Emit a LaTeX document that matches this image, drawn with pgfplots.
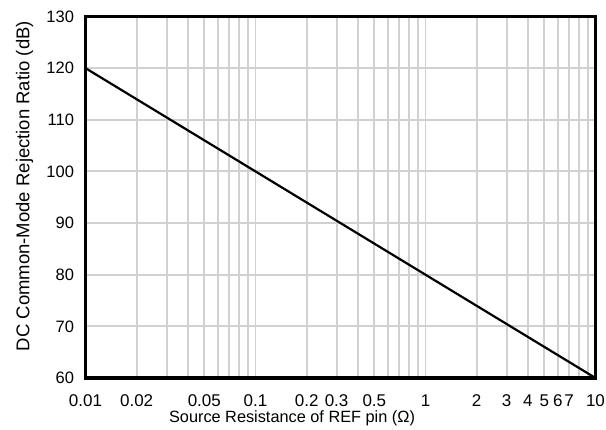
\documentclass[border=0pt]{standalone}
\usepackage{fontspec}
\setmainfont{Liberation Sans}
\usepackage{pgfplots}
\pgfplotsset{compat=1.18}
\begin{document}
\begin{tikzpicture}[font=\fontsize{16.5bp}{19bp}\selectfont]
\useasboundingbox (-85.5bp,-52bp) rectangle (520.5bp,378bp);
\begin{axis}[
  at={(0,0)}, anchor=south west,
  scale only axis, width=510bp, height=361.5bp,
  xmode=log, xmin=0.01, xmax=10, ymin=60, ymax=130,
  ytick={60,70,...,130},
  xtick={0.01,0.02,0.05,0.1,0.2,0.3,0.5,1,2,3,4,5,6,7,10},
  xticklabels={0.01,0.02,0.05,0.1,0.2,0.3,0.5,1,2,3,4,5,6,7,10},
  minor xtick={0.03,0.04,0.06,0.07,0.08,0.09,0.4,0.6,0.7,0.8,0.9,8,9},
  grid=both,
  grid style={draw=black!18, line width=1.9bp},
  minor grid style={draw=black!18, line width=1.9bp},
  major tick length=0pt, minor tick length=0pt,
  axis line style={line width=3bp},
  /pgf/number format/assume math mode=true,
  xticklabel style={anchor=base, inner sep=0pt, yshift=-28.8bp, font=\fontsize{17bp}{19bp}\selectfont},
  yticklabel style={xshift=-8bp},
  xlabel={Source Resistance of REF pin (Ω)},
  ylabel={DC Common-Mode Rejection Ratio (dB)},
  xlabel style={at={(axis description cs:0.405,0)}, anchor=base, inner sep=0pt, yshift=-44.8bp, font=\fontsize{16.3bp}{19bp}\selectfont},
  ylabel style={at={(axis description cs:-0.1196,0.531)}, anchor=center, font=\fontsize{18.5bp}{21bp}\selectfont},
]
\addplot[black, line width=2.2bp] coordinates {(0.01,120) (0.1,100) (1,80) (10,60)};
\end{axis}
\end{tikzpicture}
\end{document}
